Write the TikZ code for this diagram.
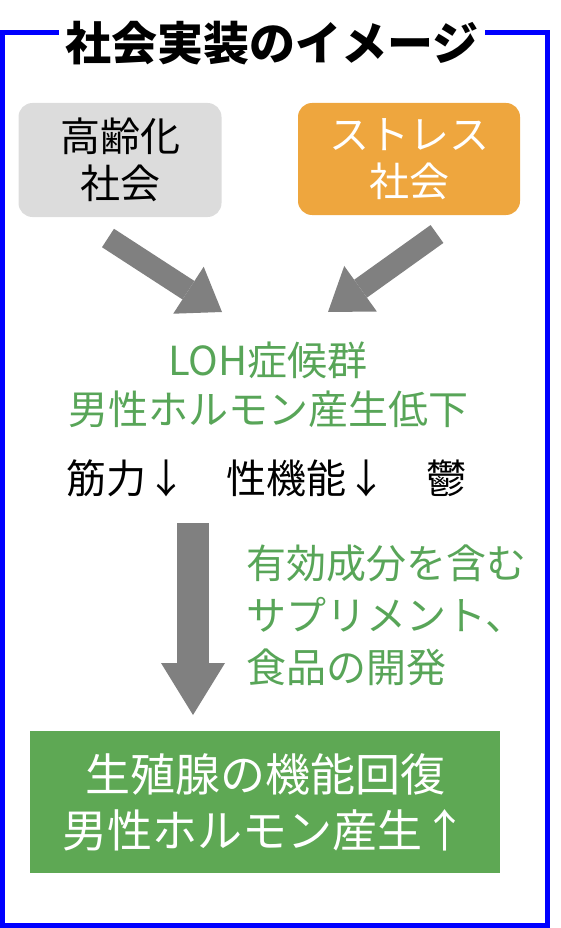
\documentclass[tikz,border=0pt]{standalone}
\usepackage{fontspec}
\setmainfont{Noto Sans CJK JP}
\usetikzlibrary{arrows.meta}
\definecolor{frameblue}{RGB}{0,0,255}
\definecolor{boxgray}{RGB}{220,220,220}
\definecolor{boxorange}{RGB}{238,166,62}
\definecolor{txtgreen}{RGB}{88,165,88}
\definecolor{boxgreen}{RGB}{94,168,84}
\definecolor{arrowgray}{RGB}{128,128,128}

\begin{document}
\begin{tikzpicture}[x=1pt, y=-1pt,
    causebox/.style={rounded corners=14pt, minimum width=203pt, minimum height=114pt, align=center, font=\fontsize{40}{47}\selectfont},
    slantarrow/.style={draw=arrowgray, line width=22pt, -{Triangle[width=56pt, length=40pt, line width=0pt]}},
    downarrow/.style={draw=arrowgray, line width=32pt, -{Triangle[width=64pt, length=52pt, line width=0pt]}}]
    \useasboundingbox (0,0) rectangle (560,928);

    % frame and title
    \draw[frameblue, line width=5pt] (2.5,33) rectangle (547.5,925);
    \node[fill=white, inner xsep=6pt, font=\fontsize{46}{50}\selectfont\bfseries] (title) at (272,43) {社会実装のイメージ};

    % causes
    \node[causebox, fill=boxgray] (aging) at (120,160) {高齢化\\社会};
    \node[causebox, fill=boxorange, text=white, minimum width=222pt, minimum height=112pt] (stress) at (409,159) {ストレス\\社会};

    \coordinate (a1s) at (108,238);
    \coordinate (a1e) at (222,312);
    \coordinate (a2s) at (437,234);
    \coordinate (a2e) at (328,312);
    \draw[slantarrow] (a1s) -- (a1e);
    \draw[slantarrow] (a2s) -- (a2e);

    % syndrome
    \node[align=center, text=txtgreen, font=\fontsize{40}{49}\selectfont] (loh) at (268,385) {LOH症候群\\男性ホルモン産生低下};
    \node[font=\fontsize{40}{49}\selectfont] (symp) at (266,478) {筋力↓　性機能↓　鬱};

    % development
    \coordinate (d1s) at (193,523);
    \coordinate (d1e) at (193,715);
    \draw[downarrow] (d1s) -- (d1e);
    \node[anchor=west, align=left, text=txtgreen, font=\fontsize{40}{52}\selectfont] (method) at (243,615) {有効成分を含む\\サプリメント、\\食品の開発};

    % result
    \node[fill=boxgreen, text=white, minimum width=470pt, minimum height=142pt, align=center, font=\fontsize{45}{56}\selectfont] (result) at (265,802) {生殖腺の機能回復\\男性ホルモン産生↑};
\end{tikzpicture}
\end{document}
